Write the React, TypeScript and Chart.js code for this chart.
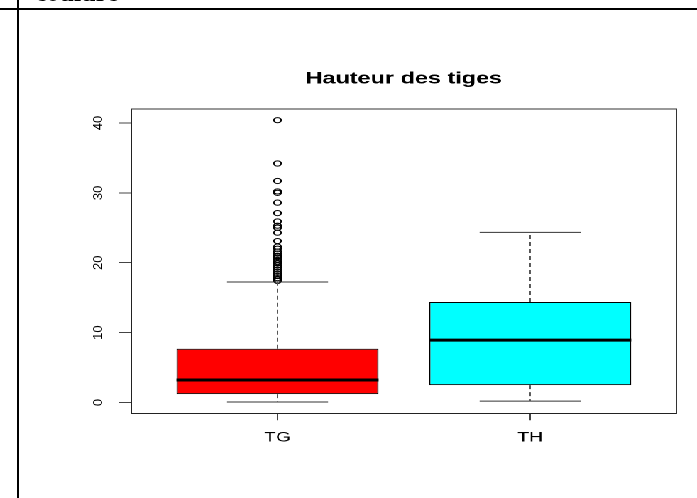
import React, { useEffect, useRef } from 'react';
import { Chart, registerables } from 'chart.js';

Chart.register(...registerables);

// ---- data ----
const categories = ['TG', 'TH'];
const lowerWhisker = [0.06, 0.2];
const firstQuartile = [1.2, 2.49];
const medians = [3.21, 8.93];
const thirdQuartile = [7.69, 14.37];
const upperWhisker = [17.24, 24.34];
const tgOutliers = [
  40.4, 34.2, 31.7, 30.2, 30.0, 28.6, 27.1, 25.9, 25.3, 25.0, 24.3, 23.1, 22.3, 22.0,
  21.6, 21.3, 21.0, 20.9, 20.7, 20.4, 20.1, 19.9, 19.6, 19.3, 19.0, 18.7, 18.4, 18.1,
  17.8, 17.6, 17.4,
];
const thOutliers: number[] = [];
const yTicks = [0, 10, 20, 30, 40];
const boxColors = ['#FF0000', '#00FFFF'];
const chartTitle = 'Hauteur des tiges';
const Y_MIN = -1.55;
const Y_MAX = 42.0;
const X_MIN = 0.42;
const X_MAX = 2.58;
const BOX_HALF = 0.4;
const CAP_HALF = 0.2;

const FONT = '"Liberation Sans", Arial, Helvetica, sans-serif';
const W0 = 491;
const H0 = 498;
const SX = 697 / W0;

// draws the y scale's own tick labels rotated (R's las = 0 style, reading upwards)
const rotatedYTickLabels = {
  id: 'rotatedYTickLabels',
  afterDraw(chart: any) {
    const s = chart.scales.y;
    if (!s) return;
    const ctx = chart.ctx;
    ctx.save();
    ctx.font = `13px ${FONT}`;
    ctx.fillStyle = '#000';
    ctx.textAlign = 'center';
    ctx.textBaseline = 'middle';
    const x = s.right - 22.7;
    s.ticks.forEach((t: any, i: number) => {
      const y = s.getPixelForTick(i);
      ctx.save();
      ctx.translate(x, y);
      ctx.scale(1 / SX, 1);
      ctx.rotate(-Math.PI / 2);
      ctx.fillText(String(t.value), 0, 0);
      ctx.restore();
    });
    ctx.restore();
  },
};

export default function App() {
  const ref = useRef<HTMLCanvasElement | null>(null);

  useEffect(() => {
    if (!ref.current) return;
    const pos = categories.map((_, i) => i + 1);

    const boxData = pos.map((x, i) => ({ x, y: [firstQuartile[i], thirdQuartile[i]] }));
    const whiskerData: any[] = [];
    const capData: any[] = [];
    const medianData: any[] = [];
    pos.forEach((p, i) => {
      whiskerData.push(
        { x: p, y: thirdQuartile[i] }, { x: p, y: upperWhisker[i] }, { x: p, y: null },
        { x: p, y: firstQuartile[i] }, { x: p, y: lowerWhisker[i] }, { x: p, y: null },
      );
      capData.push(
        { x: p - CAP_HALF, y: upperWhisker[i] }, { x: p + CAP_HALF, y: upperWhisker[i] }, { x: p, y: null },
        { x: p - CAP_HALF, y: lowerWhisker[i] }, { x: p + CAP_HALF, y: lowerWhisker[i] }, { x: p, y: null },
      );
      medianData.push(
        { x: p - BOX_HALF, y: medians[i] }, { x: p + BOX_HALF, y: medians[i] }, { x: p, y: null },
      );
    });
    const outlierData = [
      ...tgOutliers.map((y) => ({ x: 1, y })),
      ...thOutliers.map((y) => ({ x: 2, y })),
    ];

    const lineBase = { pointRadius: 0, fill: false, tension: 0, spanGaps: false, order: 1 };

    const chart = new Chart(ref.current, {
      type: 'bar',
      data: {
        datasets: [
          {
            type: 'line', label: 'medians', data: medianData, borderColor: '#000',
            borderWidth: 3, ...lineBase,
          } as any,
          {
            type: 'line', label: 'whiskers', data: whiskerData, borderColor: '#555',
            borderWidth: 1, borderDash: [4, 3], ...lineBase,
          } as any,
          {
            type: 'line', label: 'caps', data: capData, borderColor: '#333',
            borderWidth: 1, ...lineBase,
          } as any,
          {
            type: 'scatter', label: 'outliers', data: outlierData, pointStyle: 'circle',
            pointRadius: 2.6, borderWidth: 1, borderColor: '#000',
            backgroundColor: 'rgba(0,0,0,0)', showLine: false, order: 1,
          } as any,
          {
            type: 'bar', label: 'boxes', data: boxData as any, backgroundColor: boxColors,
            borderColor: '#000', borderWidth: 1, borderSkipped: false,
            barPercentage: 0.8, categoryPercentage: 1, order: 5,
          } as any,
        ],
      },
      plugins: [rotatedYTickLabels],
      options: {
        animation: false,
        responsive: true,
        maintainAspectRatio: false,
        devicePixelRatio: 2,
        events: [],
        layout: { padding: { top: 0, left: 0, right: 14.3, bottom: 0 } },
        plugins: {
          legend: { display: false },
          tooltip: { enabled: false },
          title: {
            display: true,
            text: chartTitle,
            fullSize: false,
            color: '#000',
            font: { family: FONT, size: 16.5, weight: 'bold' },
            padding: { top: 69.1, bottom: 20.1 },
          },
        },
        scales: {
          x: {
            type: 'linear', axis: 'x', position: 'bottom', min: X_MIN, max: X_MAX, offset: false,
            afterBuildTicks: (s: any) => { s.ticks = pos.map((v) => ({ value: v })); },
            afterFit: (s: any) => { s.height = 84.7; },
            ticks: {
              autoSkip: false, minRotation: 0, maxRotation: 0, padding: 9.3, color: '#000',
              font: { family: FONT, size: 13.5 },
              callback: (v: any) => categories[Math.round(Number(v)) - 1] ?? '',
            },
            grid: { display: true, drawOnChartArea: false, drawTicks: true, tickLength: 7, color: '#444', offset: false },
            border: { display: true, color: '#222', width: 1 },
          },
          y: {
            type: 'linear', axis: 'y', position: 'left', min: Y_MIN, max: Y_MAX, beginAtZero: false,
            afterBuildTicks: (s: any) => { s.ticks = yTicks.map((v) => ({ value: v })); },
            afterFit: (s: any) => { s.width = 92.28; },
            ticks: { display: false },
            grid: { display: true, drawOnChartArea: false, drawTicks: true, tickLength: 8.45, color: '#444' },
            border: { display: true, color: '#222', width: 1 },
          },
          x2: {
            type: 'linear', axis: 'x', position: 'top', display: true,
            afterFit: (s: any) => { s.height = 0; },
            ticks: { display: false },
            grid: { display: false, drawTicks: false },
            border: { display: true, color: '#333', width: 1 },
          },
          y2: {
            type: 'linear', axis: 'y', position: 'right', display: true,
            afterFit: (s: any) => { s.width = 0; },
            ticks: { display: false },
            grid: { display: false, drawTicks: false },
            border: { display: true, color: '#333', width: 1 },
          },
        } as any,
      },
    });
    return () => chart.destroy();
  }, []);

  return (
    <>
      <div
        style={{
          position: 'fixed', left: 0, top: 0, width: W0, height: H0,
          transform: `scaleX(${SX})`, transformOrigin: '0 0', background: '#fff',
        }}
      >
        <canvas ref={ref} />
      </div>
      <div style={{ position: 'fixed', left: 0, top: 8, width: 697, height: 2, background: '#000' }} />
      <div style={{ position: 'fixed', left: 17, top: 0, width: 2, height: 498, background: '#000' }} />
      <div
        style={{
          position: 'fixed', left: 35, top: -20, fontFamily: '"Liberation Serif", "Times New Roman", serif',
          fontWeight: 'bold', fontSize: 26, lineHeight: '26px', whiteSpace: 'nowrap', color: '#000',
        }}
      >
        coulure
      </div>
    </>
  );
}
